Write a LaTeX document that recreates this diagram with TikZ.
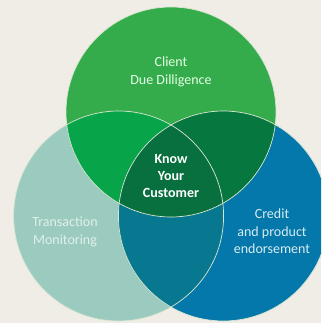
\documentclass[tikz,border=0pt]{standalone}
\usepackage{fontspec}
\setmainfont{Carlito}
\definecolor{bgcol}{HTML}{F0EDE6}
\definecolor{cddgreen}{HTML}{34AC4B}
\definecolor{tmteal}{HTML}{9BCBBE}
\definecolor{cpeblue}{HTML}{0478AA}
\definecolor{lensleft}{HTML}{08A44A}
\definecolor{lensright}{HTML}{077740}
\definecolor{lensbottom}{HTML}{087890}
\definecolor{kyccore}{HTML}{08703F}
\definecolor{rimcol}{HTML}{D9E6D2}
\begin{document}
\begin{tikzpicture}[x=1pt,y=-1pt,
    rim/.style={draw=rimcol, line width=0.7pt},
    setlabel/.style={align=center, font=\fontsize{14}{17.5}\selectfont},
    corelabel/.style={align=center, text=white, font=\bfseries\fontsize{14}{17}\selectfont}]
  \def\rad{105}
  \useasboundingbox (0,0) rectangle (321,323);
  \clip (0,0) rectangle (321,323);
  \fill[bgcol] (0,0) rectangle (321,323);
  % circle centres
  \coordinate (cdd) at (171,112);
  \coordinate (tm) at (118.6,216);
  \coordinate (cpe) at (223.4,216);
  % the three sets
  \fill[tmteal] (tm) circle (\rad);
  \fill[cpeblue] (cpe) circle (\rad);
  \fill[cddgreen] (cdd) circle (\rad);
  % pairwise overlaps
  \begin{scope}
    \clip (cdd) circle (\rad);
    \fill[lensleft] (tm) circle (\rad);
  \end{scope}
  \begin{scope}
    \clip (cdd) circle (\rad);
    \fill[lensright] (cpe) circle (\rad);
  \end{scope}
  \begin{scope}
    \clip (tm) circle (\rad);
    \fill[lensbottom] (cpe) circle (\rad);
  \end{scope}
  % centre
  \begin{scope}
    \clip (cdd) circle (\rad);
    \clip (tm) circle (\rad);
    \fill[kyccore] (cpe) circle (\rad);
  \end{scope}
  % outlines
  \draw[rim] (cdd) circle (\rad);
  \draw[rim] (tm) circle (\rad);
  \draw[rim] (cpe) circle (\rad);
  % labels
  \node[setlabel, text=green!10!white] (cddlabel) at (171,72) {Client\\Due Dilligence};
  \node[setlabel, text=tmteal!30!white] (tmlabel) at (65,232) {Transaction\\Monitoring};
  \node[setlabel, text=cpeblue!15!white] (cpelabel) at (272,231.5) {Credit\\and product\\endorsement};
  \node[corelabel] (kyclabel) at (171,176) {Know\\Your\\Customer};
\end{tikzpicture}
\end{document}
